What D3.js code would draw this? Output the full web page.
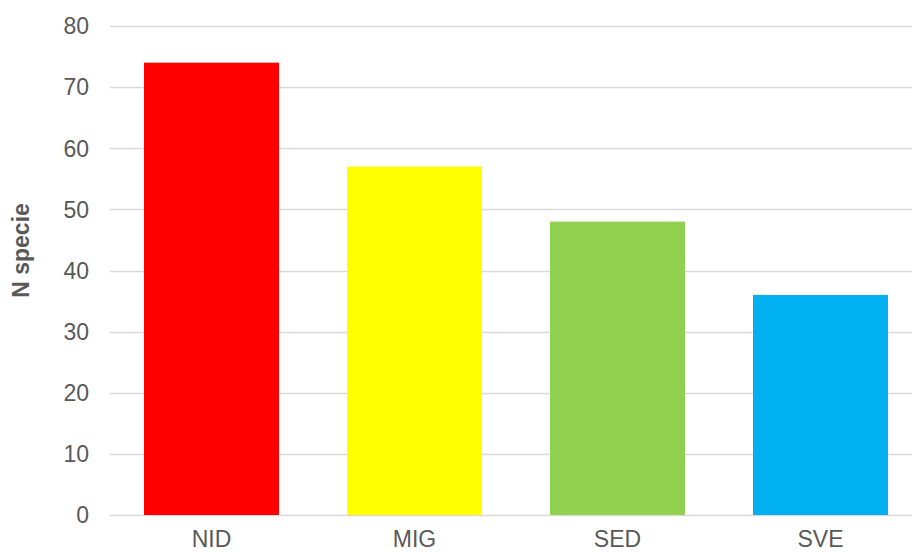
<!DOCTYPE html>
<html>
<head>
<meta charset="utf-8">
<script src="https://cdn.jsdelivr.net/npm/d3@7"></script>
<style>
  body { margin: 0; background: #fff; }
  svg text { font-family: "Liberation Sans", Arial, sans-serif; fill: #595959; }
</style>
</head>
<body>
<div id="chart"></div>
<script>
// chart data
var categories = ["NID", "MIG", "SED", "SVE"];
var values = [74, 57, 48, 36];
var barColors = ["#ff0000", "#ffff00", "#92d050", "#00b0f0"];
var yTicks = [0, 10, 20, 30, 40, 50, 60, 70, 80];

var svgWidth = 912;
var svgHeight = 553;

var svg = d3.select("#chart")
    .append("svg")
    .attr("width", svgWidth)
    .attr("height", svgHeight);

// x scale spans past the right edge (chart is cropped there)
var xScale = d3.scaleBand()
    .domain(categories)
    .range([110, 922])
    .paddingInner(0.335)
    .paddingOuter(0.1675);

var yScale = d3.scaleLinear()
    .domain([0, 80])
    .range([515, 26]);

// gridlines
svg.append("g")
    .selectAll("line")
    .data(yTicks)
    .enter()
    .append("line")
    .attr("x1", 110)
    .attr("x2", svgWidth)
    .attr("y1", d => Math.round(yScale(d)) + 0.5)
    .attr("y2", d => Math.round(yScale(d)) + 0.5)
    .attr("stroke", "#d9d9d9")
    .attr("stroke-width", 1.3);

// y tick labels
svg.append("g")
    .selectAll("text")
    .data(yTicks)
    .enter()
    .append("text")
    .attr("x", 89)
    .attr("y", d => yScale(d))
    .attr("dy", "0.36em")
    .attr("text-anchor", "end")
    .style("font-size", "23px")
    .text(d => d);

// bars
svg.append("g")
    .selectAll("rect")
    .data(values)
    .enter()
    .append("rect")
    .attr("x", (d, i) => xScale(categories[i]))
    .attr("y", d => yScale(d))
    .attr("width", xScale.bandwidth())
    .attr("height", d => yScale(0) - yScale(d))
    .attr("fill", (d, i) => barColors[i]);

// category labels, kept just inside the bottom edge
svg.append("g")
    .selectAll("text")
    .data(categories)
    .enter()
    .append("text")
    .attr("x", d => xScale(d) + xScale.bandwidth() / 2)
    .attr("y", 547)
    .attr("text-anchor", "middle")
    .style("font-size", "23px")
    .text(d => d);

// y axis title
svg.append("text")
    .attr("transform", "translate(29, 250.5) rotate(-90)")
    .attr("text-anchor", "middle")
    .style("font-size", "23px")
    .style("font-weight", "bold")
    .text("N specie");
</script>
</body>
</html>
